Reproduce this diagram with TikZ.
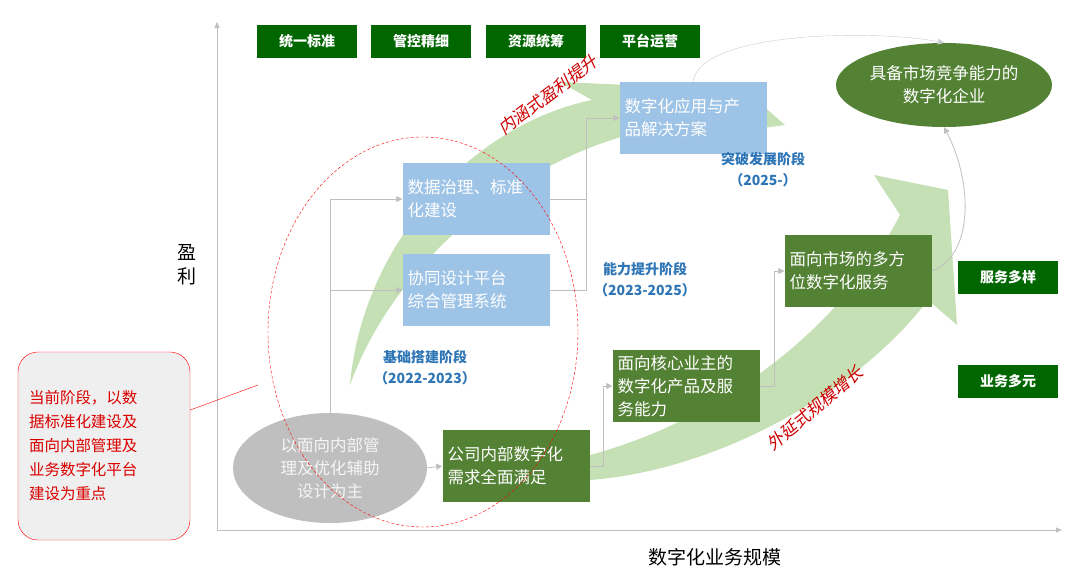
\documentclass[tikz,border=0pt]{standalone}
\usepackage{fontspec}
\setmainfont{Noto Sans CJK SC}
\newfontfamily\slantcjk[FakeSlant=0.2]{Noto Sans CJK SC}
\usetikzlibrary{arrows.meta,positioning,calc,shapes.geometric}
\definecolor{tagGreen}{HTML}{006600}
\definecolor{boxGreen}{HTML}{548235}
\definecolor{boxBlue}{HTML}{9DC3E6}
\definecolor{swoosh}{HTML}{C5E0B4}
\definecolor{stageBlue}{HTML}{2E75B6}
\definecolor{lineGray}{HTML}{BFBFBF}
\tikzset{
  tag/.style={fill=tagGreen, text=white, font=\fontsize{14}{16}\selectfont\bfseries,
    minimum width=100, minimum height=33, inner sep=0},
  stepbox/.style={minimum width=147, minimum height=72, inner sep=5,
    text width=137, align=left, text=white, font=\fontsize{16.5}{23}\selectfont},
  greenbox/.style={stepbox, fill=boxGreen},
  bluebox/.style={stepbox, fill=boxBlue},
  stage/.style={text=stageBlue, align=center, font=\fontsize{14}{21}\selectfont\bfseries},
  link/.style={draw=lineGray, thick, -{Triangle[length=6,width=6]}},
  trend/.style={text=red!80!black, font=\fontsize{17}{20}\selectfont\slantcjk},
}
\begin{document}
\begin{tikzpicture}[x=1pt,y=-1pt]
  \useasboundingbox (0,0) rectangle (1080,582);

  % axes
  \draw[lineGray, -{Triangle[length=6,width=5]}] (217,530) -- (217,22);
  \draw[lineGray, -{Triangle[length=6,width=5]}] (217,530) -- (1062,530);
  \node[font=\fontsize{19}{24}\selectfont, align=center] (yaxis) at (187,265) {盈\\利};
  \node[font=\fontsize{19}{24}\selectfont] (xaxis) at (715,557) {数字化业务规模};

  % swooshes
  \fill[swoosh] (350,385) .. controls (362,245) and (470,125) .. (592,100)
    -- (560,82) -- (745,90) -- (785,125) -- (690,138) -- (640,132)
    .. controls (520,160) and (395,260) .. (350,385) -- cycle;
  \fill[swoosh] (590,480) .. controls (720,470) and (860,390) .. (928,300)
    -- (957,325) -- (948,190) -- (874,175) -- (900,215)
    .. controls (840,330) and (720,420) .. (590,455) -- cycle;

  % tags
  \foreach \n/\x/\t in {t1/307/统一标准, t2/421/管控精细, t3/536/资源统筹, t4/650/平台运营}
    \node[tag] (\n) at (\x,41) {\t};
  \node[tag] (serve) at (1008,277) {服务多样};
  \node[tag] (biz) at (1008,381) {业务多元};

  % steps
  \node[ellipse, fill=lineGray, minimum width=194, minimum height=110, inner sep=0,
    align=center, text=white!92!gray, font=\fontsize{16.5}{23}\selectfont] (start) at (330,468)
    {以面向内部管\\理及优化辅助\\设计为主};
  \node[greenbox] (inner) at (516,466) {公司内部数字化\\需求全面满足};
  \node[greenbox] (owner) at (686,386) {面向核心业主的\\数字化产品及服\\务能力};
  \node[greenbox] (market) at (858,271) {面向市场的多方\\位数字化服务};
  \node[bluebox] (govern) at (476,199) {数据治理、标准\\化建设};
  \node[bluebox] (collab) at (476,290) {协同设计平台\\综合管理系统};
  \node[bluebox] (apps) at (693,118) {数字化应用与产\\品解决方案};
  \node[ellipse, fill=boxGreen, minimum width=216, minimum height=84, inner sep=0,
    align=center, text=white, font=\fontsize{16.5}{23}\selectfont] (goal) at (944,85)
    {具备市场竞争能力的\\数字化企业};

  % connectors
  \draw[link] (start.north) |- (govern.west);
  \draw[link] (start.north |- collab.west) -- (collab.west);
  \draw[link] (govern.east) -| ($(govern.east)+(37,0)$) |- (apps.west);
  \draw[lineGray, thick] (collab.east) -| ($(govern.east)+(37,0)$);
  \draw[link] (start.east) -- (inner.west);
  \draw[link] (inner.east) -| ($(inner.east)+(14,0)$) |- (owner.west);
  \draw[link] (owner.east) -| ($(owner.east)+(15,0)$) |- (market.west);
  \draw[link] (market.east) .. controls (975,255) and (972,180) .. (goal.south);
  \draw[link, draw=lineGray!80, thin] (apps.north) .. controls (700,30) and (880,30) .. (goal.north);

  % focus
  \draw[red, densely dashed] (423,332) ellipse [x radius=155, y radius=195];
  \node[draw=red, fill=red!4!gray!12, rounded corners=20, minimum width=172, minimum height=188,
    text width=150, align=left, text=red!85!black, font=\fontsize{15.5}{24}\selectfont] (note) at (104,446)
    {当前阶段，以数\\据标准化建设及\\面向内部管理及\\业务数字化平台\\建设为重点};
  \draw[red] (note.east |- 0,410) -- (258,385);

  % stage labels
  \node[stage] (s1) at (425,368) {基础搭建阶段\\（2022-2023）};
  \node[stage] (s2) at (645,280) {能力提升阶段\\（2023-2025）};
  \node[stage] (s3) at (763,170) {突破发展阶段\\（2025-）};
  \node[trend, rotate=37] (up) at (548,95) {内涵式盈利提升};
  \node[trend, rotate=40] (out) at (815,408) {外延式规模增长};
\end{tikzpicture}
\end{document}
